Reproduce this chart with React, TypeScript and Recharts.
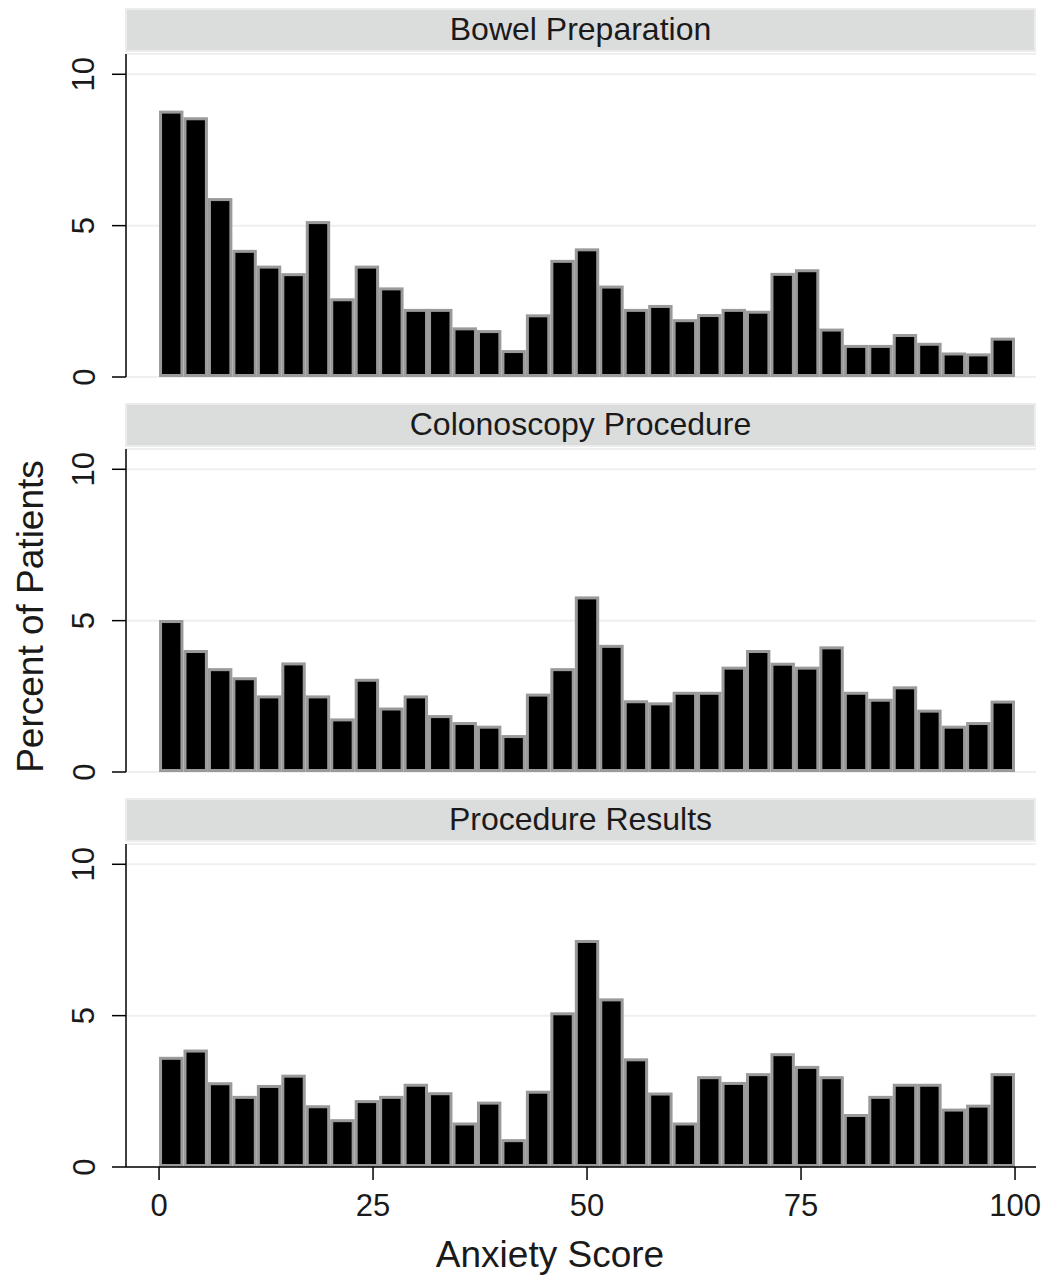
import React from 'react';
import { BarChart, Bar, XAxis, YAxis, CartesianGrid, Label } from 'recharts';

// histogram: 35 equal bins over 0-100
const BIN_WIDTH = 100 / 35;
const binMids = Array.from({ length: 35 }, (_, i) => (i + 0.5) * BIN_WIDTH);

const panelTitles = ['Bowel Preparation', 'Colonoscopy Procedure', 'Procedure Results'];

const bowelPrep = [
  8.8, 8.58, 5.91, 4.2, 3.68, 3.43, 5.15, 2.6, 3.68, 2.96, 2.25, 2.25, 1.64, 1.55, 0.89, 2.07, 3.87, 4.25,
  3.02, 2.25, 2.38, 1.91, 2.08, 2.25, 2.19, 3.44, 3.56, 1.6, 1.06, 1.06, 1.42, 1.13, 0.81, 0.78, 1.3,
];
const colonoscopy = [
  5.02, 4.03, 3.43, 3.13, 2.53, 3.62, 2.53, 1.77, 3.08, 2.13, 2.53, 1.88, 1.65, 1.53, 1.22, 2.59, 3.43, 5.8,
  4.2, 2.37, 2.3, 2.65, 2.65, 3.48, 4.03, 3.61, 3.48, 4.15, 2.65, 2.42, 2.83, 2.06, 1.53, 1.65, 2.36,
];
const procResults = [
  3.64, 3.88, 2.8, 2.35, 2.71, 3.05, 2.04, 1.58, 2.21, 2.35, 2.75, 2.47, 1.47, 2.16, 0.92, 2.52, 5.11, 7.5,
  5.57, 3.59, 2.46, 1.47, 3.0, 2.81, 3.1, 3.76, 3.34, 3.0, 1.75, 2.35, 2.75, 2.75, 1.93, 2.06, 3.1,
];

const xTicks = [0, 25, 50, 75, 100];
const yTicks = [0, 5, 10];

const FONT = "'Liberation Sans', Arial, sans-serif";
const TEXT = '#1a1a1a';

const X_MIN = -3.86;
const X_MAX = 102.45;
const Y_MAX = 10.67;
const PLOT_LEFT = 126;
const PLOT_W = 910;
const PLOT_H = 323;
const PLOT_TOPS = [54, 449, 844];
// a hair under the bin width so recharts doesn't shrink the bars to 90%
const BAR_PX = (PLOT_W / (X_MAX - X_MIN)) * BIN_WIDTH - 0.05;

const HistBar = (props: any) => {
  const { x, y, width, height } = props;
  if (!height || height <= 3) return null;
  return (
    <rect x={x + 1.5} y={y + 1.5} width={width - 3} height={height - 3} fill="#000" stroke="#9a9a9a" strokeWidth={3} />
  );
};

const YTick = (props: any) => {
  const { x, y, payload } = props;
  const cx = x - 26;
  return (
    <text
      x={cx}
      y={y}
      transform={`rotate(-90, ${cx}, ${y})`}
      textAnchor="middle"
      dominantBaseline="central"
      fontSize={31}
      fill={TEXT}
      fontFamily={FONT}
    >
      {payload.value}
    </text>
  );
};

interface PanelProps {
  title: string;
  values: number[];
  top: number;
  last?: boolean;
  yTitle?: boolean;
}

const Panel = ({ title, values, top, last, yTitle }: PanelProps) => {
  const data = binMids.map((x, i) => ({ x, pct: values[i] }));
  const height = last ? 10 + PLOT_H + 108 : 10 + PLOT_H + 20;
  return (
    <>
      <div
        style={{
          position: 'absolute',
          left: PLOT_LEFT - 1,
          top: top - 46,
          width: 907,
          height: 40,
          background: '#dbdcdc',
          border: '2px solid #ececec',
          textAlign: 'center',
          lineHeight: '38px',
          fontSize: 32,
          color: TEXT,
          fontFamily: FONT,
        }}
      >
        {title}
      </div>
      <div style={{ position: 'absolute', left: 0, top: top - 10 }}>
        <BarChart width={1048} height={height} data={data} margin={{ top: 10, right: 12, bottom: last ? 0 : 20, left: 0 }}>
          <CartesianGrid vertical={false} stroke="#efefef" strokeWidth={2} />
          <XAxis
            type="number"
            dataKey="x"
            domain={[X_MIN, X_MAX]}
            allowDataOverflow
            ticks={xTicks}
            interval={0}
            hide={!last}
            height={108}
            tickSize={13}
            tickMargin={14}
            stroke="#000"
            strokeWidth={1.5}
            tick={{ fontSize: 31, fill: TEXT, fontFamily: FONT }}
          >
            {last && (
              <Label
                value="Anxiety Score"
                position="insideBottom"
                offset={8}
                dx={-31}
                style={{ fontSize: 37, fill: TEXT, fontFamily: FONT }}
              />
            )}
          </XAxis>
          <YAxis
            type="number"
            domain={[0, Y_MAX]}
            allowDataOverflow
            ticks={yTicks}
            interval={0}
            width={PLOT_LEFT}
            tickSize={14}
            stroke="#000"
            strokeWidth={1.5}
            tick={<YTick />}
          >
            {yTitle && (
              <Label
                value="Percent of Patients"
                angle={-90}
                position="center"
                dx={-33}
                dy={6}
                style={{ fontSize: 37, fill: TEXT, fontFamily: FONT }}
              />
            )}
          </YAxis>
          <Bar dataKey="pct" barSize={BAR_PX} shape={<HistBar />} isAnimationActive={false} />
        </BarChart>
      </div>
    </>
  );
};

export default function App() {
  return (
    <div style={{ position: 'absolute', left: 0, top: 0, width: 1048, height: 1276, background: '#fff', fontFamily: FONT }}>
      <Panel title={panelTitles[0]} values={bowelPrep} top={PLOT_TOPS[0]} />
      <Panel title={panelTitles[1]} values={colonoscopy} top={PLOT_TOPS[1]} yTitle />
      <Panel title={panelTitles[2]} values={procResults} top={PLOT_TOPS[2]} last />
    </div>
  );
}
